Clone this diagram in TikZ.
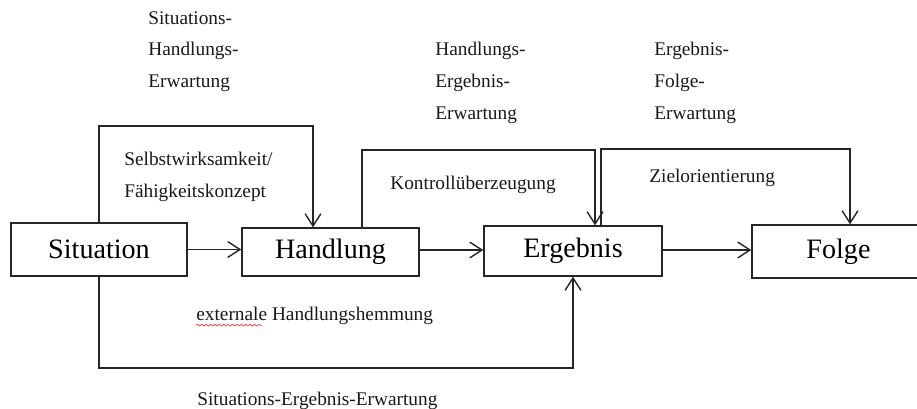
\documentclass[tikz,border=0pt]{standalone}
\usepackage{fontspec}
\setmainfont{Liberation Serif}
\usetikzlibrary{arrows.meta,decorations.pathmorphing}
\tikzstyle{kasten}=[draw=black!85,line width=0.8pt,inner sep=0pt,font=\fontsize{16}{18}\selectfont]
\tikzstyle{beschr}=[anchor=north west,inner sep=0pt,align=left,font=\fontsize{11}{18}\selectfont,text=black!90]
\tikzstyle{pfeil}=[->,draw=black!85,line width=0.8pt,>={Straight Barb[length=7pt,width=9pt]}]

\begin{document}
\begin{tikzpicture}[x=0.02cm,y=-0.02cm]
\clip (0,0) rectangle (917,409);
\node[kasten,minimum width=3.52cm,minimum height=1.06cm] (S) at (99,249.5) {Situation};
\node[kasten,minimum width=3.54cm,minimum height=0.96cm] (H) at (330.5,252) {Handlung};
\node[kasten,minimum width=3.56cm,minimum height=1.0cm] (E) at (573,251) {Ergebnis};
\node[kasten,minimum width=3.8cm,minimum height=1.06cm] (F) at (847,251.5) {};
\node (Ft) at (838.5,251.5) [font=\fontsize{16}{18}\selectfont] {Folge};
\node[beschr] (SHE) at (148,11) {Situations-\\Handlungs-\\Erwartung};
\node[beschr] (HEE) at (435,42) {Handlungs-\\Ergebnis-\\Erwartung};
\node[beschr] (EFE) at (654,42) {Ergebnis-\\Folge-\\Erwartung};
\node[beschr] (SW) at (124,152) {Selbstwirksamkeit/\\Fähigkeitskonzept};
\node[beschr] (KU) at (390,176) {Kontrollüberzeugung};
\node[beschr] (ZO) at (649,169) {Zielorientierung};
\node[beschr] (EH) at (196,307) {externale Handlungshemmung};
\node[beschr] (SEE) at (197,392) {Situations-Ergebnis-Erwartung};
\coordinate (a1) at (313,126);\coordinate (kl) at (362,150);\coordinate (kr) at (595,150);
\coordinate (zl) at (601,149);\coordinate (zr) at (850,149);\coordinate (br) at (573,368);
\draw[pfeil] (S.east) -- (S.east -| H.west);
\draw[pfeil] (H.east |- 0,250) -- (E.west |- 0,250);
\draw[pfeil] (E.east |- 0,250) -- (F.west |- 0,250);
\draw[pfeil] (S.north) |- (a1) -- (a1 |- H.north);
\draw[pfeil] (kl |- H.north) -- (kl) -- (kr) -- (kr |- E.north);
\draw[pfeil] (zl |- E.north) -- (zl) -- (zr) -- (zr |- F.north);
\draw[pfeil] (S.south) |- (br) -- (br |- E.south);
% Rechtschreibmarkierung
\draw[red!80,line width=0.4pt,decorate,decoration={snake,amplitude=0.5pt,segment length=2.5pt}] ([yshift=-2.5pt]EH.base west) -- ++(66,0);
\end{tikzpicture}
\end{document}
